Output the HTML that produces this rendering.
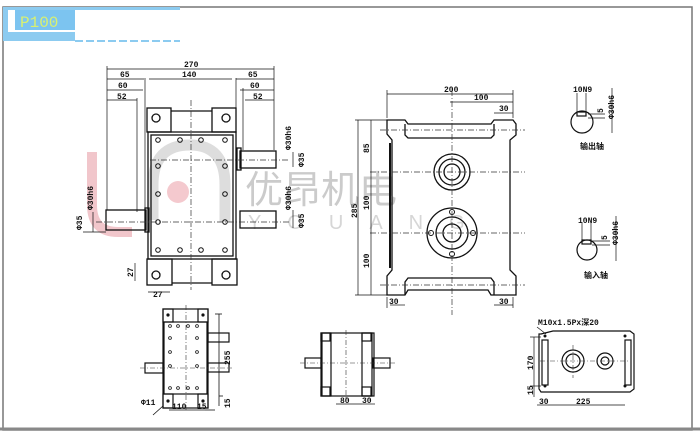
<!DOCTYPE html>
<html><head><meta charset="utf-8"><style>
html,body{margin:0;padding:0;background:#fff;}
svg{display:block;font-family:"Liberation Sans","Noto Sans CJK SC",sans-serif;}
</style></head><body>
<svg width="700" height="433" viewBox="0 0 700 433" xmlns="http://www.w3.org/2000/svg">
<rect x="0" y="0" width="700" height="433" fill="#fff"/>
<!-- frame -->
<rect x="3" y="7" width="689" height="423" fill="none" stroke="#777" stroke-width="1.5"/>
<line x1="0" y1="429" x2="700" y2="429" stroke="#888" stroke-width="3"/>
<!-- header -->
<rect x="3" y="7" width="177" height="3" fill="#8ccbf0"/>
<rect x="3" y="7" width="72" height="34" fill="#8ccbf0"/>
<rect x="8" y="10" width="67" height="22" fill="#fff"/>
<rect x="15" y="10" width="60" height="20" fill="#7cc4f0"/>
<text x="20" y="27" font-size="16" fill="#d8f070" font-family="Liberation Mono,monospace">P100</text>
<line x1="75" y1="41" x2="180" y2="41" stroke="#8ccbf0" stroke-width="2" stroke-dasharray="8,3"/>

<!-- watermark -->
<g opacity="0.6">
<path d="M92 152 L92 205 Q92 232 118 232 L132 232" fill="none" stroke="#e8a0a8" stroke-width="10"/>
<circle cx="178" cy="192" r="11" fill="#eea6ae"/>
<path d="M153 220 L153 185 Q153 145 190 145 Q225 145 225 185 L225 222" fill="none" stroke="#c8c8c8" stroke-width="11"/>
<text x="245" y="203" font-size="38" fill="#aaa" font-family="Noto Sans CJK SC,sans-serif">优昂机电</text>
<text x="248" y="229" font-size="20" fill="#bbb" letter-spacing="26">YOUANG</text>
</g>

<g stroke="#111" fill="none" stroke-width="1.3">
<!-- View 1 -->
<rect x="147" y="108" width="24" height="24"/>
<rect x="212" y="108" width="24" height="24"/>
<line x1="171" y1="111" x2="212" y2="111"/>
<rect x="148" y="132" width="88" height="127"/>
<rect x="151" y="135" width="82" height="121"/>
<rect x="147" y="259" width="25" height="26"/>
<rect x="212" y="259" width="25" height="26"/>
<line x1="172" y1="283" x2="212" y2="283"/>
<rect x="106" y="210" width="40" height="20"/>
<rect x="145" y="208" width="4" height="24"/>
<rect x="240" y="151" width="36" height="17"/>
<rect x="237" y="148" width="4" height="22"/>
<rect x="240" y="211" width="36" height="17"/>
<circle cx="156" cy="118" r="4"/><circle cx="226" cy="118" r="4"/>
<circle cx="156" cy="275" r="4"/><circle cx="226" cy="275" r="4"/>
</g>
<g fill="none" stroke="#111" stroke-width="1">
<circle cx="158" cy="140" r="2.3"/><circle cx="180" cy="140" r="2.3"/><circle cx="201" cy="140" r="2.3"/><circle cx="225" cy="140" r="2.3"/>
<circle cx="158" cy="166" r="2.3"/><circle cx="225" cy="166" r="2.3"/>
<circle cx="158" cy="194" r="2.3"/><circle cx="225" cy="194" r="2.3"/>
<circle cx="158" cy="222" r="2.3"/><circle cx="225" cy="222" r="2.3"/>
<circle cx="158" cy="250" r="2.3"/><circle cx="180" cy="250" r="2.3"/><circle cx="201" cy="250" r="2.3"/><circle cx="225" cy="250" r="2.3"/>
</g>
<g stroke="#333" stroke-width="0.7" stroke-dasharray="6,2,1,2" fill="none">
<line x1="191" y1="100" x2="191" y2="290"/>
<line x1="96" y1="222" x2="290" y2="222"/>
<line x1="150" y1="160" x2="290" y2="160"/>
</g>
<g stroke="#111" stroke-width="0.7" fill="none">
<line x1="107" y1="69" x2="274" y2="69"/>
<line x1="107" y1="79" x2="144" y2="79"/><line x1="149" y1="79" x2="232" y2="79"/><line x1="236" y1="79" x2="274" y2="79"/>
<line x1="107" y1="90" x2="143" y2="90"/><line x1="240" y1="90" x2="274" y2="90"/>
<line x1="107" y1="100" x2="137" y2="100"/><line x1="245" y1="100" x2="274" y2="100"/>
<line x1="107" y1="66" x2="107" y2="210"/><line x1="274" y1="66" x2="274" y2="150"/>
<line x1="137" y1="98" x2="137" y2="212"/><line x1="145" y1="78" x2="145" y2="208"/>
<line x1="236" y1="78" x2="236" y2="148"/><line x1="243" y1="88" x2="243" y2="150"/>
<line x1="93" y1="212" x2="93" y2="232"/><line x1="83" y1="232" x2="106" y2="232"/>
<line x1="293" y1="152" x2="293" y2="167"/><line x1="293" y1="210" x2="293" y2="228"/>
<line x1="135" y1="263" x2="135" y2="281"/><line x1="148" y1="292" x2="170" y2="292"/>
</g>
<g font-size="8" fill="#111" font-weight="bold" font-family="Liberation Mono,monospace">
<text x="184" y="67">270</text>
<text x="120" y="77">65</text><text x="182" y="77">140</text><text x="248" y="77">65</text>
<text x="118" y="88">60</text><text x="250" y="88">60</text>
<text x="117" y="99">52</text><text x="253" y="99">52</text>
<text x="153" y="297">27</text>
<text transform="translate(133,277) rotate(-90)">27</text>
<text transform="translate(82,230) rotate(-90)">Φ35</text>
<text transform="translate(93,210) rotate(-90)">Φ30h6</text>
<text transform="translate(291,150) rotate(-90)">Φ30h6</text>
<text transform="translate(304,167) rotate(-90)">Φ35</text>
<text transform="translate(291,210) rotate(-90)">Φ30h6</text>
<text transform="translate(304,228) rotate(-90)">Φ35</text>
</g>

<!-- View 2 -->
<g stroke="#111" stroke-width="1.3" fill="none">
<path d="M387 120 L405 120 L408 124 L491 124 L494 120 L513 120 L516 124 L516 135 L510 140 L510 270 L516 276 L516 295 L491 295 L488 290 L408 290 L405 295 L387 295 L387 276 L392 270 L392 140 L387 134 Z"/>
<path d="M405 124 L405 135 L408 138 L491 138 L494 135 L494 124"/>
<path d="M405 295 L405 282 L408 278 L491 278 L494 282 L494 295"/>
<line x1="390" y1="143" x2="390" y2="268" stroke-width="2"/>
<circle cx="452" cy="172" r="18"/><circle cx="452" cy="172" r="13"/><circle cx="452" cy="172" r="8"/>
<circle cx="452" cy="233" r="25"/><circle cx="452" cy="233" r="16"/><circle cx="452" cy="233" r="9"/>
</g>
<g stroke="#111" stroke-width="1" fill="none">
<circle cx="452" cy="212" r="2.5"/><circle cx="452" cy="254" r="2.5"/><circle cx="431" cy="233" r="2.5"/><circle cx="473" cy="233" r="2.5"/>
</g>
<g stroke="#333" stroke-width="0.7" stroke-dasharray="6,2,1,2" fill="none">
<line x1="452" y1="90" x2="452" y2="315"/>
<line x1="370" y1="172" x2="525" y2="172"/>
<line x1="370" y1="233" x2="525" y2="233"/>
<line x1="380" y1="130" x2="525" y2="130"/>
<line x1="380" y1="285" x2="525" y2="285"/>
</g>
<g stroke="#111" stroke-width="0.7" fill="none">
<line x1="387" y1="94" x2="513" y2="94"/><line x1="450" y1="102" x2="513" y2="102"/><line x1="494" y1="113" x2="513" y2="113"/>
<line x1="387" y1="90" x2="387" y2="118"/><line x1="513" y1="90" x2="513" y2="118"/>
<line x1="358" y1="120" x2="358" y2="295"/><line x1="371" y1="120" x2="371" y2="295"/>
<line x1="355" y1="120" x2="387" y2="120"/><line x1="355" y1="295" x2="387" y2="295"/>
<line x1="387" y1="297" x2="387" y2="308"/><line x1="513" y1="297" x2="513" y2="308"/>
<line x1="390" y1="305" x2="405" y2="305"/><line x1="494" y1="305" x2="513" y2="305"/>
</g>
<g font-size="8" fill="#111" font-weight="bold" font-family="Liberation Mono,monospace">
<text x="444" y="92">200</text><text x="474" y="100">100</text><text x="499" y="111">30</text>
<text x="389" y="304">30</text><text x="499" y="304">30</text>
<text transform="translate(357,218) rotate(-90)">285</text>
<text transform="translate(369,153) rotate(-90)">85</text>
<text transform="translate(369,210) rotate(-90)">100</text>
<text transform="translate(369,268) rotate(-90)">100</text>
</g>

<!-- shaft sections -->
<g stroke="#111" stroke-width="1.2" fill="none">
<circle cx="582" cy="122" r="11"/>
<rect x="577" y="112" width="9" height="4"/>
<circle cx="587" cy="250" r="10"/>
<rect x="582" y="240" width="9" height="4"/>
</g>
<g stroke="#111" stroke-width="0.7" fill="none">
<line x1="577" y1="93" x2="577" y2="112"/><line x1="586" y1="93" x2="586" y2="112"/>
<line x1="588" y1="114" x2="605" y2="114"/><line x1="588" y1="118" x2="605" y2="118"/>
<line x1="612" y1="88" x2="612" y2="133"/>
<line x1="582" y1="223" x2="582" y2="240"/><line x1="591" y1="223" x2="591" y2="240"/>
<line x1="592" y1="241" x2="610" y2="241"/><line x1="592" y1="245" x2="610" y2="245"/>
<line x1="616" y1="216" x2="616" y2="261"/>
</g>
<g font-size="8" fill="#111" font-weight="bold">
<text x="573" y="92" font-family="Liberation Mono,monospace">10N9</text>
<text transform="translate(603,113) rotate(-90)" font-family="Liberation Mono,monospace">5</text>
<text transform="translate(614,119) rotate(-90)" font-family="Liberation Mono,monospace">Φ30h6</text>
<text x="580" y="149" font-family="Noto Sans CJK SC,sans-serif">输出轴</text>
<text x="578" y="223" font-family="Liberation Mono,monospace">10N9</text>
<text transform="translate(607,240) rotate(-90)" font-family="Liberation Mono,monospace">5</text>
<text transform="translate(618,245) rotate(-90)" font-family="Liberation Mono,monospace">Φ30h6</text>
<text x="584" y="278" font-family="Noto Sans CJK SC,sans-serif">输入轴</text>
</g>

<!-- bottom view 1 -->
<g stroke="#111" stroke-width="1.2" fill="none">
<rect x="163" y="309" width="45" height="99"/>
<rect x="164" y="322" width="43" height="72"/>
<rect x="163" y="309" width="10" height="13"/><rect x="198" y="309" width="10" height="13"/>
<rect x="163" y="394" width="10" height="14"/><rect x="198" y="394" width="10" height="14"/>
<rect x="145" y="363" width="18" height="10"/>
<rect x="208" y="333" width="21" height="9"/>
<rect x="208" y="363" width="21" height="9"/>
</g>
<g fill="#111">
<circle cx="168" cy="315" r="1.6"/><circle cx="203" cy="315" r="1.6"/><circle cx="168" cy="401" r="1.6"/><circle cx="203" cy="401" r="1.6"/>
</g>
<g stroke="#111" stroke-width="0.8" fill="none">
<circle cx="170" cy="326" r="1.4"/><circle cx="178" cy="326" r="1.4"/><circle cx="188" cy="326" r="1.4"/><circle cx="197" cy="326" r="1.4"/>
<circle cx="170" cy="338" r="1.4"/><circle cx="197" cy="338" r="1.4"/><circle cx="170" cy="352" r="1.4"/><circle cx="197" cy="352" r="1.4"/>
<circle cx="170" cy="366" r="1.4"/><circle cx="197" cy="366" r="1.4"/>
<circle cx="170" cy="388" r="1.4"/><circle cx="178" cy="388" r="1.4"/><circle cx="188" cy="388" r="1.4"/><circle cx="197" cy="388" r="1.4"/>
<line x1="219" y1="314" x2="219" y2="406"/><line x1="215" y1="314" x2="222" y2="314"/>
<line x1="219" y1="396" x2="223" y2="396"/>
<line x1="169" y1="410" x2="205" y2="410"/><line x1="205" y1="410" x2="215" y2="410"/>
<line x1="163" y1="406" x2="153" y2="415"/>
</g>
<g stroke="#333" stroke-width="0.6" stroke-dasharray="5,2,1,2"><line x1="186" y1="305" x2="186" y2="410"/><line x1="140" y1="368" x2="232" y2="368"/></g>
<g font-size="8" fill="#111" font-weight="bold" font-family="Liberation Mono,monospace">
<text x="141" y="405">Φ11</text><text x="172" y="409">110</text><text x="197" y="409">15</text>
<text transform="translate(230,365) rotate(-90)">255</text><text transform="translate(230,408) rotate(-90)">15</text>
</g>

<!-- bottom view 2 -->
<g stroke="#111" stroke-width="1.2" fill="none">
<rect x="321" y="333" width="10" height="63"/>
<rect x="322" y="333" width="52" height="63"/>
<rect x="321" y="333" width="9" height="8"/><rect x="321" y="387" width="9" height="9"/>
<rect x="362" y="333" width="10" height="63"/>
<rect x="362" y="333" width="9" height="8"/><rect x="362" y="387" width="9" height="9"/>
<rect x="305" y="358" width="16" height="10"/>
<rect x="373" y="358" width="17" height="10"/>
</g>
<g stroke="#333" stroke-width="0.6" stroke-dasharray="5,2,1,2"><line x1="300" y1="363" x2="395" y2="363"/><line x1="346" y1="330" x2="346" y2="400"/></g>
<g stroke="#111" stroke-width="0.7"><line x1="336" y1="404" x2="362" y2="404"/><line x1="362" y1="404" x2="375" y2="404"/></g>
<g font-size="8" fill="#111" font-weight="bold" font-family="Liberation Mono,monospace"><text x="340" y="403">80</text><text x="362" y="403">30</text></g>

<!-- bottom view 3 -->
<g stroke="#111" stroke-width="1.2" fill="none">
<path d="M541 334 L553 331 L630 331 L634 334 L634 389 L630 392 L541 392 L539 389 L539 334 Z"/>
<rect x="542" y="340" width="6" height="45"/>
<rect x="625" y="340" width="6" height="45"/>
<circle cx="573" cy="361" r="11"/><circle cx="573" cy="361" r="7"/>
<circle cx="605" cy="361" r="8"/><circle cx="605" cy="361" r="4"/>
</g>
<g fill="#111"><circle cx="545" cy="336" r="1.5"/><circle cx="625" cy="336" r="1.5"/><circle cx="545" cy="386" r="1.5"/><circle cx="625" cy="386" r="1.5"/></g>
<g stroke="#333" stroke-width="0.6" stroke-dasharray="5,2,1,2"><line x1="540" y1="361" x2="630" y2="361"/><line x1="573" y1="345" x2="573" y2="378"/></g>
<g stroke="#111" stroke-width="0.7"><line x1="534" y1="337" x2="534" y2="397"/><line x1="530" y1="337" x2="541" y2="337"/><line x1="530" y1="386" x2="541" y2="386"/>
<line x1="537" y1="405" x2="548" y2="405"/><line x1="548" y1="405" x2="625" y2="405"/><line x1="537" y1="327" x2="546" y2="334"/></g>
<g font-size="8" fill="#111" font-weight="bold" font-family="Liberation Mono,monospace,Noto Sans CJK SC">
<text x="538" y="325">M10x1.5Px深20</text>
<text x="539" y="404">30</text><text x="576" y="404">225</text>
<text transform="translate(533,370) rotate(-90)">170</text><text transform="translate(533,395) rotate(-90)">15</text>
</g>
</svg>
</body></html>
